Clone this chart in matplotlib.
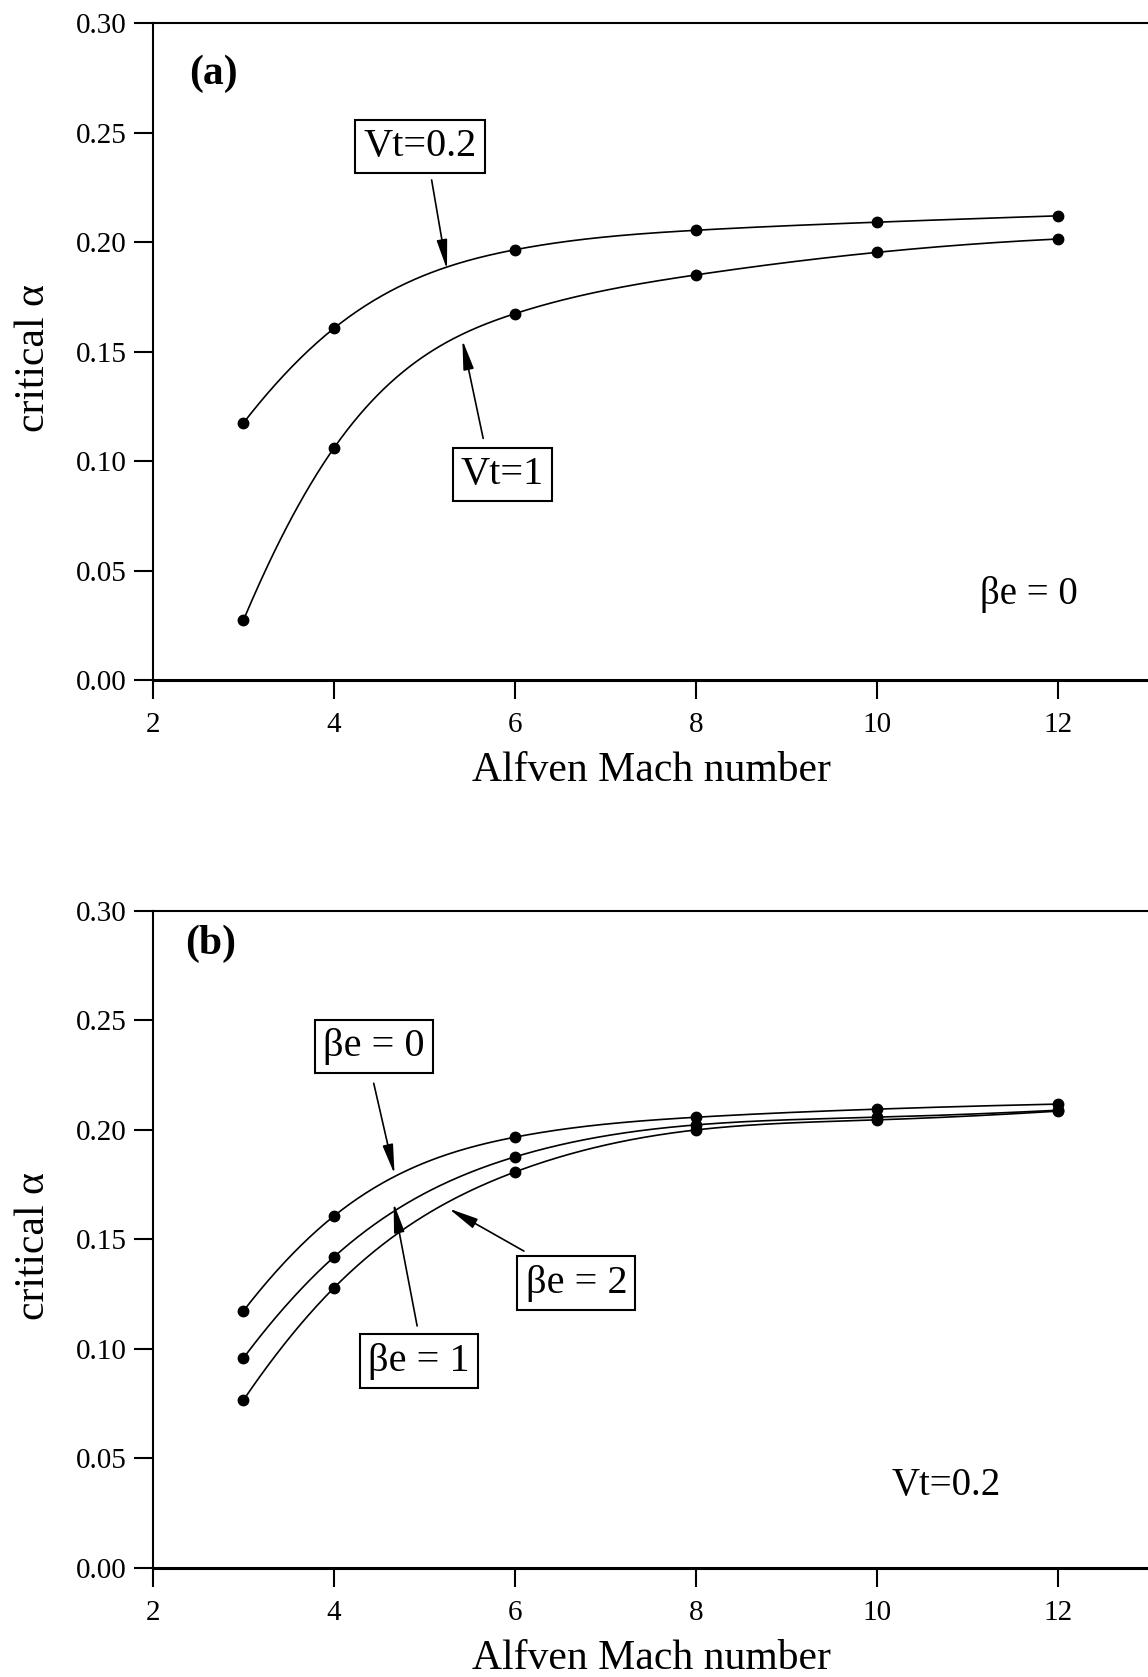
import numpy as np
import matplotlib
matplotlib.use("Agg")
import matplotlib.pyplot as plt
from matplotlib import font_manager

# ---- data -------------------------------------------------------------
mach = [3, 4, 6, 8, 10, 12]

# panel (a): beta_e = 0
alpha_vt02 = [0.1175, 0.1607, 0.1966, 0.2055, 0.2092, 0.2121]
alpha_vt1 = [0.0274, 0.1060, 0.1674, 0.1851, 0.1954, 0.2015]

# panel (b): Vt = 0.2
alpha_be0 = [0.1174, 0.1607, 0.1967, 0.2058, 0.2095, 0.2118]
alpha_be1 = [0.0959, 0.1420, 0.1877, 0.2023, 0.2058, 0.2090]
alpha_be2 = [0.0767, 0.1279, 0.1808, 0.2000, 0.2046, 0.2086]

x_ticks = [2, 4, 6, 8, 10, 12]
y_ticks = [0.00, 0.05, 0.10, 0.15, 0.20, 0.25, 0.30]

# ---- fonts ------------------------------------------------------------
installed = {f.name for f in font_manager.fontManager.ttflist}
SERIF = next((n for n in ["Liberation Serif", "DejaVu Serif"] if n in installed),
             "DejaVu Serif")


def smooth_spline(x, y, xs):
    """Cubic spline through (x, y) with parabolic run-out ends."""
    x = np.asarray(x, float)
    y = np.asarray(y, float)
    n = len(x)
    h = np.diff(x)
    A = np.zeros((n, n))
    b = np.zeros(n)
    A[0, 0], A[0, 1] = 1.0, -1.0
    A[-1, -1], A[-1, -2] = 1.0, -1.0
    for i in range(1, n - 1):
        A[i, i - 1] = h[i - 1]
        A[i, i] = 2 * (h[i - 1] + h[i])
        A[i, i + 1] = h[i]
        b[i] = 6 * ((y[i + 1] - y[i]) / h[i] - (y[i] - y[i - 1]) / h[i - 1])
    M = np.linalg.solve(A, b)
    idx = np.clip(np.searchsorted(x, xs) - 1, 0, n - 2)
    x0, x1 = x[idx], x[idx + 1]
    hh = x1 - x0
    t0 = x1 - xs
    t1 = xs - x0
    return (M[idx] * t0 ** 3 / (6 * hh) + M[idx + 1] * t1 ** 3 / (6 * hh)
            + (y[idx] / hh - M[idx] * hh / 6) * t0
            + (y[idx + 1] / hh - M[idx + 1] * hh / 6) * t1)


def draw_curve(ax, y):
    xs = np.linspace(mach[0], mach[-1], 400)
    ax.plot(xs, smooth_spline(mach, y, xs), color="black", lw=1.2, zorder=3)
    ax.plot(mach, y, "o", color="black", ms=7.5, zorder=4)


def style_axes(ax):
    ax.set_xlim(2, 13)
    ax.set_ylim(0, 0.30)
    ax.set_xticks(x_ticks)
    ax.set_yticks(y_ticks)
    ax.set_xticklabels([str(v) for v in x_ticks])
    ax.set_yticklabels([f"{v:.2f}" for v in y_ticks])
    ax.spines["right"].set_visible(False)
    for s in ("left", "top"):
        ax.spines[s].set_linewidth(1.5)
    ax.spines["bottom"].set_linewidth(2.2)
    ax.tick_params(direction="out", length=14, width=1.5, labelsize=21,
                   pad=5)
    ax.tick_params(axis="x", pad=9)
    for lab in ax.get_xticklabels() + ax.get_yticklabels():
        lab.set_fontfamily(SERIF)
    ax.set_xlabel("Alfven Mach number", fontsize=30, family=SERIF, va="center")
    ax.xaxis.set_label_coords(0.5005, -0.138)
    ax.set_ylabel("critical α", fontsize=30, family=SERIF, va="center")
    ax.yaxis.set_label_coords(-0.1196, 0.49)


def boxed(ax, text, xy):
    ax.text(*xy, text, fontsize=29, family=SERIF, ha="center", va="center",
            bbox=dict(boxstyle="square,pad=0.2", fc="white", ec="black",
                      lw=1.5), zorder=5)


def arrow(ax, tail, tip):
    ax.annotate("", xy=tip, xytext=tail,
                arrowprops=dict(arrowstyle="-|>,head_length=0.9,head_width=0.16",
                                mutation_scale=20, color="black", lw=1.2,
                                shrinkA=0, shrinkB=0), zorder=5)


fig = plt.figure(figsize=(11.48, 16.77), dpi=100)
ax_a = fig.add_axes([0.1333, 0.5945, 0.8667, 0.3915])
ax_b = fig.add_axes([0.1333, 0.0650, 0.8667, 0.3918])

# ---- panel (a) --------------------------------------------------------
draw_curve(ax_a, alpha_vt02)
draw_curve(ax_a, alpha_vt1)
style_axes(ax_a)
ax_a.text(2.67, 0.2770, "(a)", fontsize=30, family=SERIF, weight="bold",
          ha="center", va="center")
boxed(ax_a, "Vt=0.2", (4.95, 0.2438))
arrow(ax_a, (5.08, 0.2285), (5.25, 0.1876))
boxed(ax_a, "Vt=1", (5.86, 0.0941))
arrow(ax_a, (5.65, 0.1104), (5.42, 0.1554))
ax_a.text(11.68, 0.0393, "βe = 0", fontsize=28, family=SERIF,
          ha="center", va="center")

# ---- panel (b) --------------------------------------------------------
draw_curve(ax_b, alpha_be0)
draw_curve(ax_b, alpha_be1)
draw_curve(ax_b, alpha_be2)
style_axes(ax_b)
ax_b.text(2.64, 0.2849, "(b)", fontsize=30, family=SERIF, weight="bold",
          ha="center", va="center")
boxed(ax_b, "βe = 0", (4.44, 0.2381))
arrow(ax_b, (4.44, 0.2213), (4.67, 0.1798))
boxed(ax_b, "βe = 1", (4.94, 0.0945))
arrow(ax_b, (4.92, 0.1105), (4.66, 0.1667))
boxed(ax_b, "βe = 2", (6.68, 0.1301))
arrow(ax_b, (6.10, 0.1447), (5.27, 0.1641))
ax_b.text(10.77, 0.0377, "Vt=0.2", fontsize=28, family=SERIF,
          ha="center", va="center")

fig.savefig("out.png", dpi=100)
